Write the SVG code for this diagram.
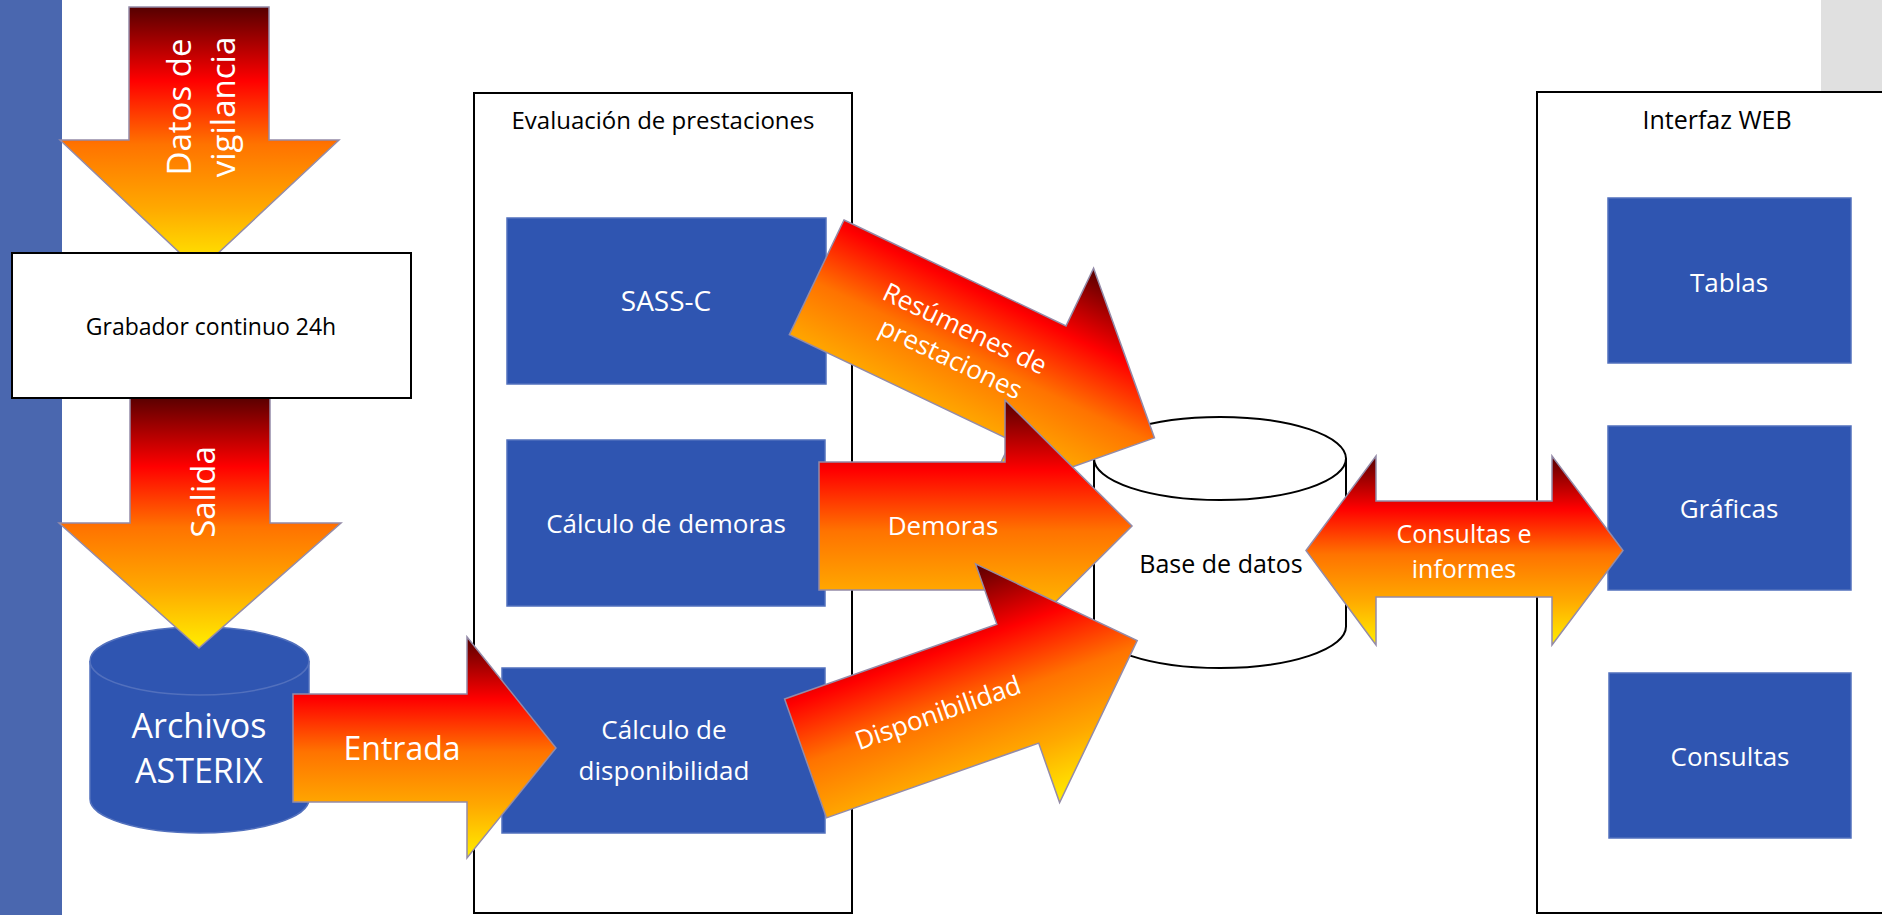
<svg xmlns="http://www.w3.org/2000/svg" width="1882" height="915" viewBox="0 0 1882 915">
<defs>
<linearGradient id="fire" x1="0" y1="0" x2="0" y2="1">
<stop offset="0" stop-color="#560000"/>
<stop offset="0.28" stop-color="#ff0000"/>
<stop offset="0.52" stop-color="#ff7300"/>
<stop offset="0.76" stop-color="#ffa800"/>
<stop offset="1" stop-color="#ffee00"/>
</linearGradient>
<style>
.blue{fill:#2f55b1;stroke:#5270bd;stroke-width:1.5}
.arrow{fill:url(#fire);stroke:#948ba8;stroke-width:1.5}
.frame{fill:#fff;stroke:#000;stroke-width:2}
.wt{fill:#fff;font-family:"Open Sans","Liberation Sans",sans-serif;text-anchor:middle}
.bt{fill:#000;font-family:"Open Sans","Liberation Sans",sans-serif;text-anchor:middle}
</style>
</defs>
<rect x="0" y="0" width="1882" height="915" fill="#fff"/>
<rect x="0" y="0" width="62" height="915" fill="#4a67af"/>
<rect x="1821" y="0" width="61" height="92" fill="#e0e0e0"/>

<g id="evaluacion">
<rect class="frame" x="474" y="93" width="378" height="820"/>
<text class="bt" x="663" y="129" font-size="24">Evaluación de prestaciones</text>
</g>
<g id="interfaz">
<rect class="frame" x="1537" y="92" width="360" height="821"/>
<text class="bt" x="1717" y="129" font-size="25">Interfaz WEB</text>
</g>

<g id="sassc">
<rect class="blue" x="507" y="218" width="319" height="166"/>
<text class="wt" x="666" y="311" font-size="28">SASS-C</text>
</g>
<g id="demoras-calc">
<rect class="blue" x="507" y="440" width="318" height="166"/>
<text class="wt" x="666" y="533" font-size="26">Cálculo de demoras</text>
</g>
<g id="disponibilidad-calc">
<rect class="blue" x="502" y="668" width="323" height="165"/>
<text class="wt" x="664" y="739" font-size="26">Cálculo de</text>
<text class="wt" x="664" y="780" font-size="26">disponibilidad</text>
</g>
<g id="tablas">
<rect class="blue" x="1608" y="198" width="243" height="165"/>
<text class="wt" x="1729" y="292" font-size="26">Tablas</text>
</g>
<g id="graficas">
<rect class="blue" x="1608" y="426" width="243" height="164"/>
<text class="wt" x="1729" y="518" font-size="26">Gráficas</text>
</g>
<g id="consultas">
<rect class="blue" x="1609" y="673" width="242" height="165"/>
<text class="wt" x="1730" y="766" font-size="26">Consultas</text>
</g>

<g id="archivos">
<path class="blue" d="M90,661 A109.5,34 0 0 1 309,661 L309,799 A109.5,34 0 0 1 90,799 Z"/>
<path d="M90,661 A109.5,34 0 0 0 309,661" fill="none" stroke="#5270bd" stroke-width="1.5"/>
<text class="wt" x="199" y="738" font-size="34">Archivos</text>
<text class="wt" x="199" y="783" font-size="34">ASTERIX</text>
</g>
<g id="basedatos">
<path d="M1094,458.5 A126,41.5 0 0 1 1346,458.5 L1346,626.5 A126,41.5 0 0 1 1094,626.5 Z" fill="#fff" stroke="#000" stroke-width="2"/>
<path d="M1094,458.5 A126,41.5 0 0 0 1346,458.5" fill="none" stroke="#000" stroke-width="2"/>
<text class="bt" x="1221" y="573" font-size="25">Base de datos</text>
</g>

<g id="connectors">
<g id="arrow-datos">
<polygon class="arrow" points="129,7 269,7 269,140 339,140 199,271 60,140 129,140"/>
<text class="wt" transform="translate(191,107) rotate(-90)" font-size="33">Datos de</text>
<text class="wt" transform="translate(235,107) rotate(-90)" font-size="33">vigilancia</text>
</g>
<g id="arrow-salida">
<polygon class="arrow" points="130,396 270,396 270,523 341,523 199,648 59,523 130,523"/>
<text class="wt" transform="translate(215,492) rotate(-90)" font-size="33">Salida</text>
</g>
<g id="arrow-entrada">
<polygon class="arrow" points="293,694 467,694 467,637 556,748 467,858 467,802 293,802"/>
<text class="wt" x="402" y="760" font-size="32">Entrada</text>
</g>
<g id="arrow-resumenes" transform="translate(844,220) rotate(25.5)">
<polygon class="arrow" points="0,0 246,0 246,-64 374,63 246,191 246,127 0,127"/>
<text class="wt" x="156" y="55" font-size="26">Resúmenes de</text>
<text class="wt" x="156" y="88" font-size="26">prestaciones</text>
</g>
<g id="arrow-demoras">
<polygon class="arrow" points="819,462 1005,462 1005,400 1132,526 1005,652 1005,590 819,590"/>
<text class="wt" x="943" y="535" font-size="26">Demoras</text>
</g>
<g id="arrow-disponibilidad" transform="translate(784.6,699) rotate(-19.4)">
<polygon class="arrow" points="0,0 225,0 225,-64 352,62 225,189 225,126 0,126"/>
<text class="wt" x="140" y="73" font-size="26">Disponibilidad</text>
</g>
<g id="arrow-consultas">
<polygon class="arrow" points="1306,550.5 1376,456 1376,501 1552,501 1552,456 1623,550.5 1552,645 1552,597 1376,597 1376,645"/>
<text class="wt" x="1464" y="543" font-size="25">Consultas e</text>
<text class="wt" x="1464" y="578" font-size="25">informes</text>
</g>
</g>

<g id="grabador">
<rect class="frame" x="12" y="253" width="399" height="145"/>
<text class="bt" x="211" y="335" font-size="23">Grabador continuo 24h</text>
</g>
</svg>
